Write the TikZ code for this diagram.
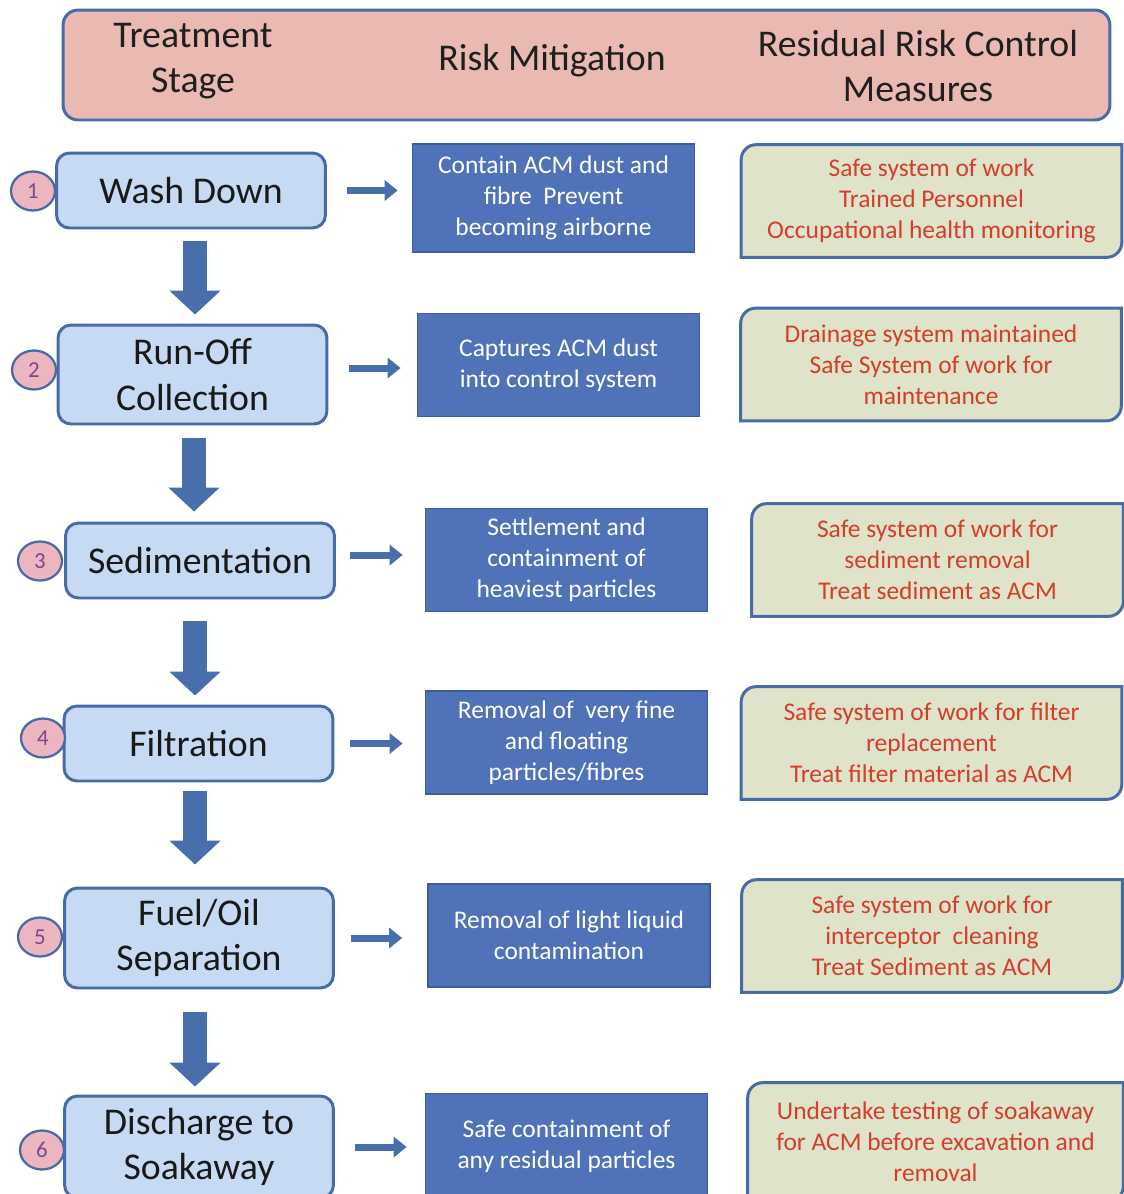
\documentclass[tikz,border=0pt]{standalone}
\usepackage{fontspec}
\setmainfont{Carlito}
\usetikzlibrary{arrows.meta,shapes.geometric,backgrounds}

\definecolor{edgeblue}{RGB}{72,106,166}
\definecolor{headpink}{RGB}{234,185,178}
\definecolor{stageblue}{RGB}{198,218,243}
\definecolor{mitblue}{RGB}{80,114,184}
\definecolor{mitedge}{RGB}{62,92,152}
\definecolor{residgreen}{RGB}{222,227,202}
\definecolor{residred}{RGB}{212,62,42}
\definecolor{numpink}{RGB}{236,182,192}
\definecolor{numpurple}{RGB}{122,72,140}
\definecolor{arrowblue}{RGB}{72,110,172}

\tikzset{
  bigtext/.style={font=\fontsize{21.5}{26}\selectfont},
  smalltext/.style={font=\fontsize{14.5}{17.6}\selectfont},
  stage/.style={bigtext, draw=edgeblue, line width=1.7pt, fill=stageblue,
    rounded corners=0.26cm, minimum width=5.38cm, align=center, text=black!90},
  mitig/.style={smalltext, draw=mitedge, line width=1pt, fill=mitblue,
    text=white, minimum width=5.64cm, minimum height=2.06cm, align=center},
  resid/.style={smalltext, text=residred, minimum width=7.6cm,
    minimum height=2.24cm, align=center},
  numb/.style={ellipse, draw=edgeblue, line width=1.3pt, fill=numpink,
    text=numpurple, minimum width=0.88cm, minimum height=0.78cm, inner sep=0pt,
    font=\fontsize{13}{15}\selectfont},
  flow/.style={draw=arrowblue, line width=0.48cm,
    -{Triangle[width=1cm,length=0.48cm]}},
  link/.style={draw=arrowblue, line width=0.14cm,
    -{Triangle[width=0.4cm,length=0.26cm]}}
}

% frame with two rounded corners (top left, bottom right)
\newcommand\diagframe[1]{%
  \filldraw[draw=edgeblue, line width=1.7pt, fill=residgreen]
    (#1.north east) -- ([yshift=0.3cm]#1.south east)
    arc[start angle=0, end angle=-90, radius=0.3cm]
    -- (#1.south west) -- ([yshift=-0.3cm]#1.north west)
    arc[start angle=180, end angle=90, radius=0.3cm] -- cycle;}

\begin{document}
\begin{tikzpicture}[x=0.02cm, y=0.02cm]
  \useasboundingbox (0,0) rectangle (1123,-1194);

  % header
  \node[draw=edgeblue, line width=1.7pt, fill=headpink, rounded corners=0.3cm,
    minimum width=20.94cm, minimum height=2.2cm] (head) at (586.5,-65) {};
  \node[bigtext, align=center, text=black!88] (h1) at (193,-61) {Treatment\\Stage};
  \node[bigtext, text=black!88] (h2) at (552,-61) {Risk Mitigation};
  \node[bigtext, align=center, text=black!88] (h3) at (918,-66) {Residual Risk Control\\Measures};

  % treatment stages
  \node[stage, minimum height=1.5cm] (s1) at (191,-190.5) {Wash Down};
  \node[stage, minimum height=1.98cm] (s2) at (192.5,-374.5) {Run-Off\\Collection};
  \node[stage, minimum height=1.5cm] (s3) at (200,-560.5) {Sedimentation};
  \node[stage, minimum height=1.5cm] (s4) at (198.5,-743.5) {Filtration};
  \node[stage, minimum height=2cm] (s5) at (199,-938) {Fuel/Oil\\Separation};
  \node[stage, minimum height=2.04cm] (s6) at (199,-1147) {Discharge to\\Soakaway};

  \node[numb] (n1) at (33,-191) {1};
  \node[numb] (n2) at (34,-370) {2};
  \node[numb] (n3) at (40,-561) {3};
  \node[numb] (n4) at (43,-738) {4};
  \node[numb] (n5) at (40,-937) {5};
  \node[numb] (n6) at (42,-1150) {6};

  % risk mitigation
  \node[mitig, minimum height=2.16cm] (m1) at (553.5,-198) {Contain ACM dust and\\fibre\ \ Prevent\\becoming airborne};
  \node[mitig] (m2) at (558.5,-365) {Captures ACM dust\\into control system};
  \node[mitig] (m3) at (566.5,-560) {Settlement and\\containment of\\heaviest particles};
  \node[mitig] (m4) at (566.5,-742.5) {Removal of\ \ very fine\\and floating\\particles/fibres};
  \node[mitig] (m5) at (569,-935.5) {Removal of light liquid\\contamination};
  \node[mitig, minimum height=2.1cm] (m6) at (566.5,-1146) {Safe containment of\\any residual particles};

  % residual risk control
  \node[resid] (r1) at (931.5,-201) {Safe system of work\\Trained Personnel\\Occupational health monitoring};
  \node[resid] (r2) at (931,-364.5) {Drainage system maintained\\Safe System of work for\\maintenance};
  \node[resid, minimum width=7.42cm] (r3) at (937.5,-560) {Safe system of work for\\sediment removal\\Treat sediment as ACM};
  \node[resid] (r4) at (931.5,-743) {Safe system of work for filter\\replacement\\Treat filter material as ACM};
  \node[resid] (r5) at (932,-936) {Safe system of work for\\interceptor\ \ cleaning\\Treat Sediment as ACM};
  \node[resid, minimum width=7.5cm, minimum height=2.36cm] (r6) at (935.5,-1142) {Undertake testing of soakaway\\for ACM before excavation and\\removal};

  \begin{pgfonlayer}{background}
    \foreach \i in {1,...,6} {\diagframe{r\i}}
  \end{pgfonlayer}

  % down arrows between stages
  \draw[flow, shorten <=0.24cm, shorten >=0.18cm] ([xshift=0.08cm]s1.south) -- ([xshift=0.08cm]s1.south |- s2.north);
  \draw[flow, shorten <=0.26cm, shorten >=0.2cm] ([xshift=0.03cm]s2.south) -- ([xshift=0.03cm]s2.south |- s3.north);
  \draw[flow, shorten <=0.44cm, shorten >=0.18cm] ([xshift=-0.1cm]s3.south) -- ([xshift=-0.1cm]s3.south |- s4.north);
  \draw[flow, shorten <=0.18cm, shorten >=0.44cm] ([xshift=-0.07cm]s4.south) -- ([xshift=-0.07cm]s4.south |- s5.north);
  \draw[flow, shorten <=0.46cm, shorten >=0.16cm] ([xshift=-0.08cm]s5.south) -- ([xshift=-0.08cm]s5.south |- s6.north);

  % arrows to mitigation
  \draw[link, shorten <=0.4cm, shorten >=0.28cm] (s1.east) -- (s1.east -| m1.west);
  \draw[link, shorten <=0.42cm, shorten >=0.32cm] ([yshift=0.13cm]s2.east) -- ([yshift=0.13cm]s2.east -| m2.west);
  \draw[link, shorten <=0.28cm, shorten >=0.44cm] ([yshift=0.11cm]s3.east) -- ([yshift=0.11cm]s3.east -| m3.west);
  \draw[link, shorten <=0.32cm, shorten >=0.44cm] (s4.east) -- (s4.east -| m4.west);
  \draw[link, shorten <=0.32cm, shorten >=0.5cm] (s5.east) -- (s5.east -| m5.west);
  \draw[link, shorten <=0.4cm, shorten >=0.36cm] (s6.east) -- (s6.east -| m6.west);
\end{tikzpicture}
\end{document}
